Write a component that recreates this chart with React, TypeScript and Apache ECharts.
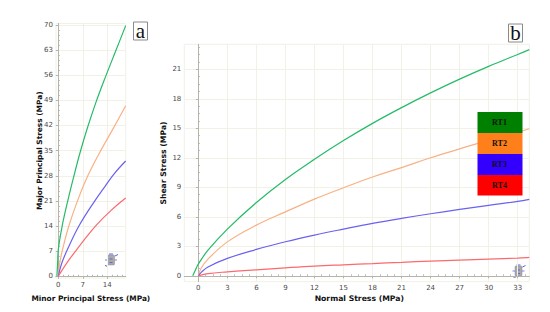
import React, { useEffect, useRef } from "react";
import * as echarts from "echarts";

const seriesNames = ["RT1", "RT2", "RT3", "RT4"];
const lineColors = ["#25bb68", "#f8b184", "#6a62ee", "#fb6a6e"];
const legendColors = ["#008000", "#ff7f1a", "#3300ff", "#ff0000"];

// Panel a: Major vs Minor Principal Stress
const aTicksX = [0, 7, 14];
const aTicksY = [0, 7, 14, 21, 28, 35, 42, 49, 56, 63, 70];
const aRT1: number[][] = [[-0.4, 0], [-0.2, 3.5], [0, 7.5], [1.1, 14], [2.7, 21], [4.5, 28.1], [6.2, 34.4], [8.3, 41.3], [10.7, 48.3], [13.5, 55.6], [16.5, 63], [19.25, 69.8]];
const aRT2: number[][] = [[0, 0], [0.3, 3], [1.1, 7], [3, 14], [5.4, 20.8], [8.3, 27.7], [11.9, 34.6], [15.7, 41.2], [19.25, 47.5]];
const aRT3: number[][] = [[0, 0], [1, 3.7], [3, 8.3], [6, 14.2], [10, 20.4], [13.3, 25], [16, 28.6], [19.25, 32.1]];
const aRT4: number[][] = [[0, 0], [1, 1.6], [3, 4.5], [5, 7.1], [8, 10.9], [11, 14.4], [15, 18.3], [19.25, 21.8]];

// Panel b: Shear vs Normal Stress
const bTicksX = [0, 3, 6, 9, 12, 15, 18, 21, 24, 27, 30, 33];
const bTicksY = [0, 3, 6, 9, 12, 15, 18, 21];
const bRT1: number[][] = [[-0.58, 0], [-0.3, 0.6], [0, 1.2], [1, 2.6], [3, 4.75], [6, 7.45], [9, 9.8], [12, 11.85], [15, 13.75], [18, 15.5], [21, 17.1], [24, 18.6], [27, 20], [30, 21.3], [33, 22.5], [34.2, 23]];
const bRT2: number[][] = [[0, 0], [0.3, 0.8], [1, 1.7], [3, 3.45], [6, 5.15], [9, 6.5], [12, 7.8], [15, 8.95], [18, 10.05], [21, 11], [24, 12], [27, 12.9], [30, 13.8], [33, 14.6], [34.2, 14.95]];
const bRT3: number[][] = [[0, 0], [0.3, 0.35], [1, 0.9], [3, 1.77], [6, 2.68], [9, 3.46], [12, 4.14], [15, 4.75], [18, 5.33], [21, 5.84], [24, 6.31], [27, 6.75], [30, 7.16], [33, 7.57], [34.2, 7.77]];
const bRT4: number[][] = [[0, 0], [1, 0.22], [3, 0.4], [6, 0.61], [9, 0.81], [12, 0.99], [15, 1.12], [18, 1.24], [21, 1.37], [24, 1.5], [27, 1.6], [30, 1.7], [33, 1.8], [34.2, 1.87]];

const aMinorX = [1.4, 2.8, 4.2, 5.6, 8.4, 9.8, 11.2, 12.6, 15.4, 16.8, 18.2];
const aMinorY = [1.4, 2.8, 4.2, 5.6, 8.4, 9.8, 11.2, 12.6, 15.4, 16.8, 18.2, 19.6, 22.4, 23.8, 25.2, 26.6, 29.4, 30.8, 32.2, 33.6, 36.4, 37.8, 39.2, 40.6, 43.4, 44.8, 46.2, 47.6, 50.4, 51.8, 53.2, 54.6, 57.4, 58.8, 60.2, 61.6, 64.4, 65.8, 67.2, 68.6];
const bMinorX = [0.75, 1.5, 2.25, 3.75, 4.5, 5.25, 6.75, 7.5, 8.25, 9.75, 10.5, 11.25, 12.75, 13.5, 14.25, 15.75, 16.5, 17.25, 18.75, 19.5, 20.25, 21.75, 22.5, 23.25, 24.75, 25.5, 26.25, 27.75, 28.5, 29.25, 30.75, 31.5, 32.25, 33.75];
const bMinorY = [0.75, 1.5, 2.25, 3.75, 4.5, 5.25, 6.75, 7.5, 8.25, 9.75, 10.5, 11.25, 12.75, 13.5, 14.25, 15.75, 16.5, 17.25, 18.75, 19.5, 20.25, 21.75, 22.5, 23.25];

const FONT = "DejaVu Sans";
const GRIDLINE = "#f1f1e6";
const AXIS = "#b4b4ac";
const TICKTEXT = "#4a4a4a";

function majorAxis(gridIndex: number, min: number, max: number, ticks: number[], name: string, gap: number, nameSize: number, nameShift: number) {
  return {
    type: "value",
    gridIndex,
    min,
    max,
    name,
    nameLocation: "middle",
    nameGap: gap,
    nameMoveOverlap: false,
    nameTextStyle: {
      fontFamily: FONT,
      fontWeight: "bold",
      fontSize: nameSize,
      color: "#111",
      padding: [0, 0, 0, nameShift],
    },
    axisLine: { show: true, onZero: true, lineStyle: { color: AXIS, width: 1 } },
    axisTick: { show: true, length: 2.5, customValues: ticks, lineStyle: { color: AXIS } },
    axisLabel: {
      show: true,
      customValues: ticks,
      margin: 3,
      fontFamily: FONT,
      fontSize: 7,
      color: TICKTEXT,
    },
    splitLine: { show: true, lineStyle: { color: GRIDLINE, width: 1 } },
  };
}

function minorAxis(gridIndex: number, min: number, max: number, ticks: number[]) {
  return {
    type: "value",
    gridIndex,
    min,
    max,
    axisLine: { show: false, onZero: true },
    axisTick: { show: true, length: 1.5, customValues: ticks, lineStyle: { color: AXIS } },
    axisLabel: { show: false },
    splitLine: { show: false },
  };
}

function lineSeries(name: string, data: number[][], color: string, axisIndex: number) {
  return {
    type: "line",
    name,
    data,
    xAxisIndex: axisIndex,
    yAxisIndex: axisIndex,
    smooth: 0.4,
    showSymbol: false,
    symbol: "none",
    lineStyle: { color, width: 1.2 },
    z: 3,
  };
}

function panelLabel(text: string, x: number, y: number) {
  return [
    { type: "rect", shape: { x, y, width: 14, height: 18 }, style: { fill: "#fff", stroke: "#8a8a8a", lineWidth: 1 }, z: 20 },
    {
      type: "text",
      x: x + 7,
      y: y + 9,
      style: { text, fill: "#111", font: "21px 'Liberation Serif'", align: "center", verticalAlign: "middle" },
      z: 21,
    },
  ];
}

function specimenIcon(cx: number, cy: number) {
  const blue = "#5a62e0";
  return {
    type: "group",
    x: cx,
    y: cy,
    z: 15,
    children: [
      { type: "rect", shape: { x: -3.5, y: -5, width: 7, height: 10, r: 1 }, style: { fill: "#a9a9a9", stroke: "#8d8d95", lineWidth: 0.5 } },
      { type: "line", shape: { x1: -2, y1: -6, x2: 2, y2: -6 }, style: { stroke: blue, lineWidth: 1 } },
      { type: "line", shape: { x1: 4, y1: -4, x2: 7, y2: -5.5 }, style: { stroke: blue, lineWidth: 1 } },
      { type: "line", shape: { x1: -6, y1: 0, x2: -3.5, y2: 0 }, style: { stroke: blue, lineWidth: 0.8 } },
      { type: "line", shape: { x1: 3.5, y1: 0, x2: 6, y2: 0 }, style: { stroke: blue, lineWidth: 0.8 } },
      { type: "line", shape: { x1: -6, y1: 5.5, x2: -3, y2: 6.5 }, style: { stroke: blue, lineWidth: 1 } },
      { type: "line", shape: { x1: -1.5, y1: 2.5, x2: 1.5, y2: 2.5 }, style: { stroke: blue, lineWidth: 0.9 } },
      { type: "line", shape: { x1: -1.5, y1: -1, x2: 1.5, y2: -1 }, style: { stroke: blue, lineWidth: 0.9 } },
    ],
  };
}

const legendTops = [112, 133, 154, 175];
const legendHeights = [21, 21, 21, 20.5];

export default function App() {
  const ref = useRef<HTMLDivElement>(null);
  useEffect(() => {
    const chart = echarts.init(ref.current!, undefined, { renderer: "svg" });
    const legendEls: any[] = [];
    seriesNames.forEach((n, i) => {
      legendEls.push({
        type: "rect",
        shape: { x: 477.5, y: legendTops[i], width: 45, height: legendHeights[i] },
        style: { fill: legendColors[i] },
        z: 10,
      });
      legendEls.push({
        type: "text",
        x: 499.5,
        y: legendTops[i] + legendHeights[i] / 2,
        style: { text: n, fill: "#111", font: "bold 8px 'Liberation Serif'", align: "center", verticalAlign: "middle" },
        z: 11,
      });
    });
    chart.setOption({
      animation: false,
      backgroundColor: "#fff",
      grid: [
        { left: 56, top: 23.5, width: 69.7, height: 254.5, show: true, borderColor: GRIDLINE, borderWidth: 1, backgroundColor: "transparent" },
        { left: 184.3, top: 44.3, width: 345, height: 237.4, show: true, borderColor: GRIDLINE, borderWidth: 1, backgroundColor: "transparent" },
      ],
      xAxis: [
        majorAxis(0, -0.66, 19.25, aTicksX, "Minor Principal Stress (MPa)", 17, 7.4, 0),
        minorAxis(0, -0.66, 19.25, aMinorX),
        majorAxis(1, -1.45, 34.2, bTicksX, "Normal Stress (MPa)", 13, 7.7, 5),
        minorAxis(1, -1.45, 34.2, bMinorX),
      ],
      yAxis: [
        majorAxis(0, -0.47, 70.4, aTicksY, "Major Principal Stress (MPa)", 13, 7.4, 0),
        minorAxis(0, -0.47, 70.4, aMinorY),
        majorAxis(1, -0.6, 23.54, bTicksY, "Shear Stress (MPa)", 17, 7.7, 0),
        minorAxis(1, -0.6, 23.54, bMinorY),
      ],
      series: [
        lineSeries("RT1", aRT1, lineColors[0], 0),
        lineSeries("RT2", aRT2, lineColors[1], 0),
        lineSeries("RT3", aRT3, lineColors[2], 0),
        lineSeries("RT4", aRT4, lineColors[3], 0),
        lineSeries("RT1", bRT1, lineColors[0], 2),
        lineSeries("RT2", bRT2, lineColors[1], 2),
        lineSeries("RT3", bRT3, lineColors[2], 2),
        lineSeries("RT4", bRT4, lineColors[3], 2),
      ],
      graphic: {
        elements: [
          ...panelLabel("a", 133.5, 22),
          ...panelLabel("b", 508.5, 24),
          ...legendEls,
          specimenIcon(111, 260),
          specimenIcon(518.5, 271),
        ],
      },
    });
    return () => chart.dispose();
  }, []);
  return <div ref={ref} style={{ position: "absolute", left: 0, top: 0, width: 550, height: 312 }} />;
}
